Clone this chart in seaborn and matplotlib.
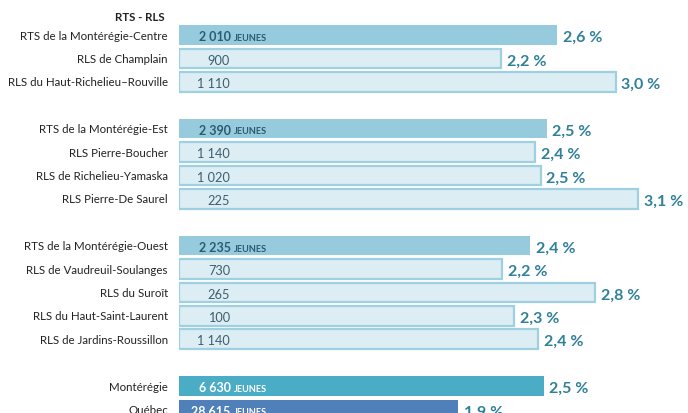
import numpy as np
import pandas as pd
import seaborn as sns
import matplotlib.pyplot as plt

# data
names = ["RTS de la Montérégie-Centre", "RLS de Champlain", "RLS du Haut-Richelieu–Rouville",
         "RTS de la Montérégie-Est", "RLS Pierre-Boucher", "RLS de Richelieu-Yamaska", "RLS Pierre-De Saurel",
         "RTS de la Montérégie-Ouest", "RLS de Vaudreuil-Soulanges", "RLS du Suroît",
         "RLS du Haut-Saint-Laurent", "RLS de Jardins-Roussillon",
         "Montérégie", "Québec"]
youth = [2010, 900, 1110, 2390, 1140, 1020, 225, 2235, 730, 265, 100, 1140, 6630, 28615]
pct = [2.57, 2.19, 2.97, 2.50, 2.42, 2.46, 3.12, 2.39, 2.20, 2.83, 2.28, 2.44, 2.48, 1.90]
kind = ["rts", "rls", "rls", "rts", "rls", "rls", "rls", "rts", "rls", "rls", "rls", "rls", "region", "province"]
group_sizes = [3, 4, 5, 2]
header = "RTS - RLS"

fill = {"rts": "#95cbdc", "rls": "#dcedf3", "region": "#4aacc5", "province": "#4f80b9"}
edge = {"rts": "none", "rls": "#9fd0e1", "region": "none", "province": "none"}
numcol = {"rts": "#2b5b70", "rls": "#3d5f70", "region": "white", "province": "white"}
pctcol = "#2f8099"

# row positions with one empty row between groups
rows = []
r = 0
for g in group_sizes:
    rows += list(range(r, r + g))
    r += g + 1

df = pd.DataFrame({"name": names, "pct": pct, "row": rows, "kind": kind})

fig = plt.figure(figsize=(6.88, 4.14), dpi=100)
ax = fig.add_axes([179 / 688, 0, 509 / 688, 1])
sns.barplot(data=df, x="pct", y="row", hue="name", hue_order=names,
            palette=[fill[k] for k in kind], orient="h", native_scale=True,
            dodge=False, width=0.84, legend=False, ax=ax, saturation=1)

for cont, k in zip(ax.containers, kind):
    for p in cont:
        if k == "rls":
            p.set_edgecolor(edge[k])
            p.set_linewidth(1.6)
        else:
            p.set_linewidth(0)

ax.set_xlim(0, 509 / 147)
ax.set_ylim(16.15, -1.54)
ax.axis("off")

font = ["Lato", "DejaVu Sans"]
for name, n, v, y, k in zip(names, youth, pct, rows, kind):
    ax.text(-0.075, y, name, ha="right", va="center", fontsize=8.3, family=font, color="#222222")
    num = f"{n:,}".replace(",", " ")
    if k == "rls":
        ax.text(0.347, y + 0.05, num, ha="right", va="center", fontsize=9.2, family=font, color=numcol[k])
    else:
        ax.text(0.352, y + 0.05, num, ha="right", va="center", fontsize=9, family=font,
                color=numcol[k], fontweight="bold")
        ax.text(0.375, y + 0.1, "JEUNES", ha="left", va="center", fontsize=6.6, family=font,
                color=numcol[k], fontweight="bold")
    ax.text(v + 0.04, y + 0.08, f"{v:.1f}".replace(".", ",") + " %", ha="left", va="center",
            fontsize=11.5, family=font, color=pctcol, fontweight="bold")

ax.text(-0.095, -0.8, header, ha="right", va="center", fontsize=8.3, family=font,
        color="#222222", fontweight="bold")

fig.savefig("out.png", dpi=100)
